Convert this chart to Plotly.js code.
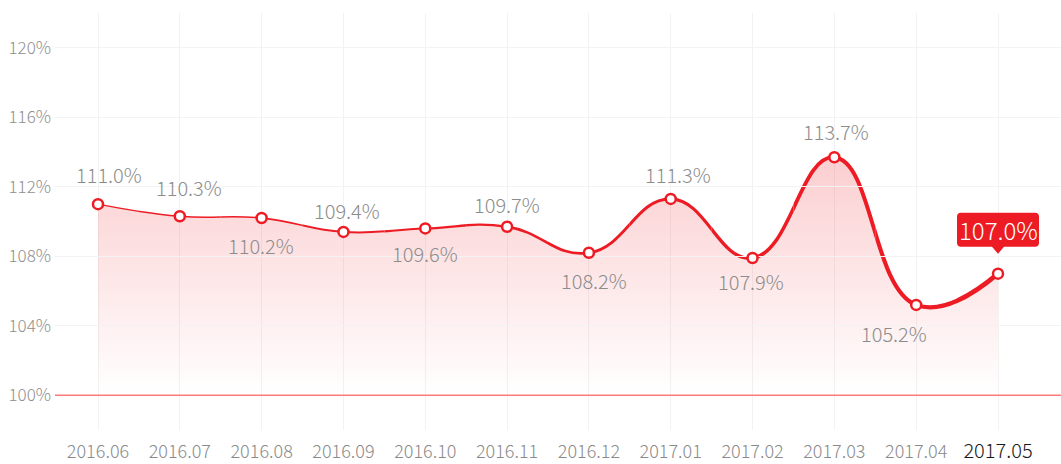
<!DOCTYPE html>
<html>
<head>
<meta charset="utf-8">
<script src="https://cdn.plot.ly/plotly-3.0.1.min.js"></script>
<style>html,body{margin:0;padding:0;background:#fff;}#chart{width:1061px;height:464px;}</style>
</head>
<body>
<div id="chart"></div>
<script>
// ---- data ----
const categories = ['2016.06','2016.07','2016.08','2016.09','2016.10','2016.11','2016.12','2017.01','2017.02','2017.03','2017.04','2017.05'];
const values = [111.0, 110.3, 110.2, 109.4, 109.6, 109.7, 108.2, 111.3, 107.9, 113.7, 105.2, 107.0];
const yTickValues = [100, 104, 108, 112, 116, 120];

// ---- style ----
const labelPlacement = ['above','above','below','above','below','above','below','above','below','above','below','callout'];
const labelYShift = [30, 29, -27, 21, -25, 22, -28, 24, -24, 26, -29, 44];
const labelXShift = [11, 9, -1, 4, 0, 0, 5, 7, -2, 2, -22, 0];
const RED = '#ED1C24';
const FONT = '"Noto Sans CJK SC", "Source Han Sans", "Noto Sans", sans-serif';
const SMOOTH = 1.3;
const xs = categories.map((_, i) => i);
const r0 = -0.5255, r1 = 11.77;
const yRange = [98, 122];
const last = values.length - 1;

const traces = [];
const layout = {
  width: 1061, height: 464,
  margin: {l: 55, r: 0, t: 13, b: 34, pad: 0},
  paper_bgcolor: '#fff', plot_bgcolor: 'rgba(0,0,0,0)',
  showlegend: false,
  font: {family: FONT, color: '#8a8a8a', weight: 300},
  xaxis: {
    domain: [0, 1], range: [r0, r1], tickmode: 'array', tickvals: xs,
    ticktext: categories.map((c, i) => i === last
      ? '<span style="color:#1a1a1a;font-size:20px">' + c + '</span>' : c),
    tickfont: {size: 18, color: '#8a8a8a', family: FONT},
    showgrid: true, gridcolor: '#f2f2f2', gridwidth: 1, zeroline: false,
    showline: false, ticks: '', ticklabelstandoff: 9, fixedrange: true
  },
  yaxis: {
    domain: [0, 1], range: yRange, tickmode: 'array', tickvals: yTickValues,
    ticktext: yTickValues.map(v => v + '%'),
    tickfont: {size: 17, color: '#8f8f8f', family: FONT},
    showgrid: true, gridcolor: '#f3f3f3', gridwidth: 1, zeroline: false,
    showline: false, ticks: '', ticklabelstandoff: 3, fixedrange: true
  },
  shapes: [{
    type: 'line', xref: 'paper', yref: 'y', x0: 0, x1: 1, y0: 100, y1: 100,
    line: {color: '#FF7B7B', width: 1.5}, layer: 'above'
  }, {
    // callout bubble (rounded box + pointer), sized in pixels around the last point
    type: 'path', xref: 'x', yref: 'y',
    xsizemode: 'pixel', ysizemode: 'pixel', xanchor: xs[last], yanchor: values[last],
    path: 'M -37,27 L -6,27 L 0,20 L 6,27 L 37,27 Q 41,27 41,31 L 41,57 Q 41,61 37,61 L -37,61 Q -41,61 -41,57 L -41,31 Q -41,27 -37,27 Z',
    fillcolor: RED, line: {width: 0}, layer: 'above'
  }],
  annotations: []
};

// gradient fill
traces.push({
  x: xs, y: values, type: 'scatter', mode: 'lines', xaxis: 'x', yaxis: 'y',
  line: {shape: 'spline', smoothing: SMOOTH, width: 0, color: 'rgba(0,0,0,0)'},
  fill: 'tozeroy',
  fillgradient: {type: 'vertical', start: 100, stop: 114,
    colorscale: [[0, 'rgba(237,28,36,0.0)'], [1, 'rgba(237,28,36,0.22)']]},
  hoverinfo: 'skip'
});

// line drawn in slices with increasing width
const bounds = [r0];
for (let b = 0.5; b < 11; b += 0.5) bounds.push(b);
bounds.push(r1);
const span = r1 - r0;
let axN = 2;
for (let k = 0; k < bounds.length - 1; k++) {
  const a = bounds[k], b = bounds[k + 1];
  const mid = Math.min(11, Math.max(0, (a + b) / 2));
  const w = 1.3 + 3.3 * Math.pow(mid / 11, 1.3);
  layout['xaxis' + axN] = {
    domain: [(a - r0) / span, (b - r0) / span], range: [a, b],
    visible: false, showgrid: false, zeroline: false, anchor: 'y', fixedrange: true
  };
  traces.push({
    x: xs, y: values, type: 'scatter', mode: 'lines', xaxis: 'x' + axN, yaxis: 'y',
    line: {shape: 'spline', smoothing: SMOOTH, width: w, color: RED}, hoverinfo: 'skip'
  });
  axN++;
}

// markers on top
layout['xaxis' + axN] = {domain: [0, 1], range: [r0, r1], visible: false,
  showgrid: false, zeroline: false, anchor: 'y', fixedrange: true};
traces.push({
  x: xs, y: values, type: 'scatter', mode: 'markers', xaxis: 'x' + axN, yaxis: 'y',
  marker: {size: 10, color: '#fff', line: {color: RED, width: 2.5}},
  hoverinfo: 'skip', cliponaxis: false
});

// value labels
values.forEach((v, i) => {
  const p = labelPlacement[i];
  const txt = v.toFixed(1) + '%';
  layout.annotations.push({
    x: xs[i], y: v, xref: 'x', yref: 'y', text: txt, showarrow: false,
    yshift: labelYShift[i], xshift: labelXShift[i],
    font: p === 'callout' ? {size: 24, color: '#fff', family: FONT}
                          : {size: 20, color: '#8c8c8c', family: FONT}
  });
});

Plotly.newPlot('chart', traces, layout, {staticPlot: true, displayModeBar: false});
</script>
</body>
</html>
